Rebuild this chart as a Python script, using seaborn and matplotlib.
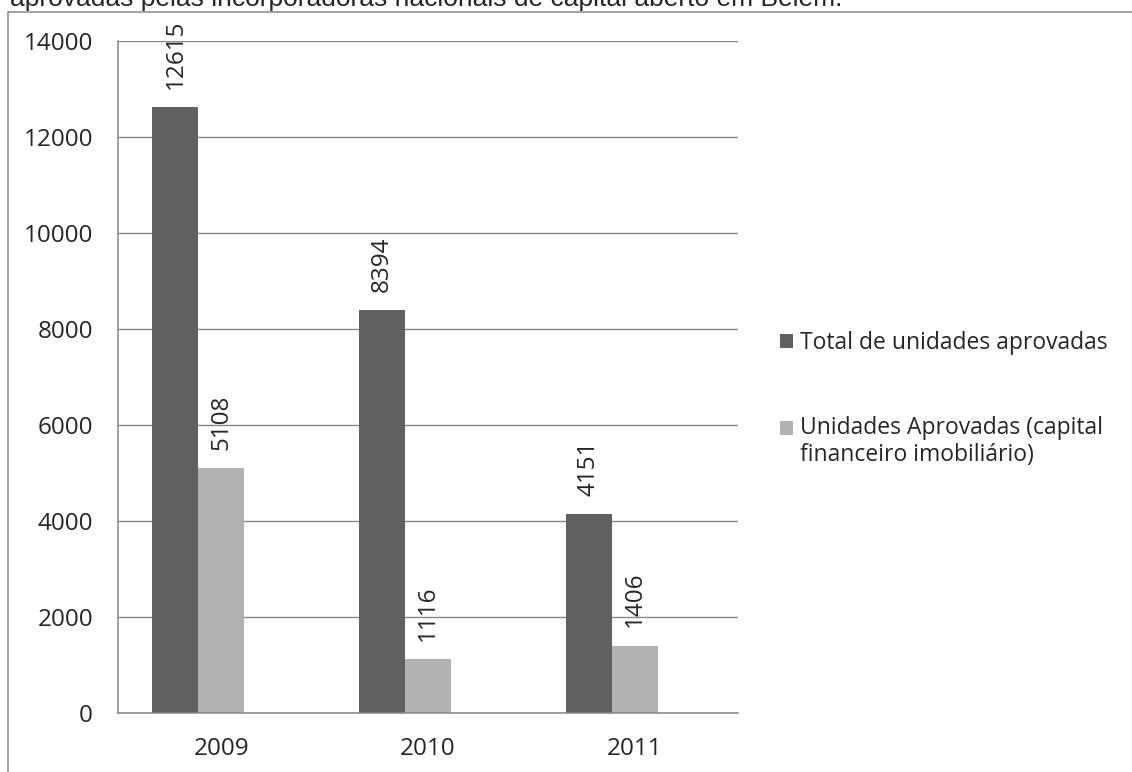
import matplotlib
matplotlib.use("Agg")
import matplotlib.pyplot as plt
from matplotlib.lines import Line2D
from matplotlib.patches import Rectangle
from matplotlib.legend_handler import HandlerPatch, update_from_first_child
import seaborn as sns
import pandas as pd

# Data
anos = ["2009", "2010", "2011"]
total_unidades = [12615, 8394, 4151]
unidades_capital = [5108, 1116, 1406]
series = ["Total de unidades aprovadas",
          "Unidades Aprovadas (capital\nfinanceiro imobiliário)"]
yticks = [0, 2000, 4000, 6000, 8000, 10000, 12000, 14000]
titulo = "aprovadas pelas incorporadoras nacionais de capital aberto em Belém."

df = pd.DataFrame({
    "ano": anos * 2,
    "valor": total_unidades + unidades_capital,
    "serie": [series[0]] * len(anos) + [series[1]] * len(anos),
})

sns.set_style("white")
plt.rcParams["font.family"] = ["Open Sans", "DejaVu Sans"]

W, H = 1132, 772
fig = plt.figure(figsize=(W / 100, H / 100), dpi=100)
ax = fig.add_axes([118 / W, (H - 713) / H, (738 - 118) / W, (713 - 41) / H])

grid_col = "#868686"
cores = ["#606060", "#b2b2b2", "#ffffff"]
# a third, empty slot keeps the Excel-style offset of each pair
ordem = series + ["reserva"]

sns.barplot(data=df, x="ano", y="valor", hue="serie", hue_order=ordem,
            order=anos, palette=cores, width=0.668, linewidth=0,
            saturation=1, legend=False, ax=ax)

fs = 17.5
ax.set_ylim(0, 14000)
ax.set_xlim(-0.5, len(anos) - 0.5)
ax.set_yticks(yticks)
ax.set_yticklabels([str(v) for v in yticks], fontsize=fs)
ax.set_xticks(range(len(anos)))
ax.set_xticklabels(anos, fontsize=fs)
ax.set_xticks([i - 0.5 for i in range(len(anos) + 1)], minor=True)
ax.tick_params(axis="x", which="major", length=0, pad=17)
ax.tick_params(axis="x", which="minor", length=7, width=1.1, color=grid_col, direction="out")
ax.tick_params(axis="y", length=6, width=1.1, color=grid_col, direction="out", pad=12)
ax.set_xlabel("")
ax.set_ylabel("")

ax.yaxis.grid(True, color=grid_col, linewidth=1.0)
ax.set_axisbelow(True)
for s in ["top", "right"]:
    ax.spines[s].set_visible(False)
for s in ["left", "bottom"]:
    ax.spines[s].set_color(grid_col)
    ax.spines[s].set_linewidth(1.1)

for cont in ax.containers[:2]:
    ax.bar_label(cont, rotation=90, padding=13, fontsize=fs)


def marcador_primeira_linha(legend, orig_handle, xdescent, ydescent,
                            width, height, fontsize):
    # square aligned with the first line of a two-line label
    return Rectangle((-xdescent, -ydescent + 0.62 * fontsize), width, height)


leg = ax.legend(handles=list(ax.containers[:2]), labels=series,
                loc="upper left", bbox_to_anchor=(780 / W, 1 - 331 / H),
                bbox_transform=fig.transFigure, frameon=False, fontsize=16.5,
                handlelength=0.57, handleheight=0.57, handletextpad=0.3,
                labelspacing=2.65, borderaxespad=0, borderpad=0,
                handler_map={ax.containers[1]: HandlerPatch(
                    patch_func=marcador_primeira_linha,
                    update_func=update_from_first_child)})

# outer chart frame
frame_kw = dict(color="#888888", linewidth=1.1, transform=fig.transFigure)
fig.add_artist(Line2D([8 / W, 1], [1 - 12 / H, 1 - 12 / H], **frame_kw))
fig.add_artist(Line2D([8 / W, 8 / W], [1 - 12 / H, 0], **frame_kw))

fig.text(10 / W, 1 - 6 / H, titulo, fontsize=19, family=["Liberation Sans"],
         va="baseline", ha="left")

fig.savefig("out.png", dpi=100)
